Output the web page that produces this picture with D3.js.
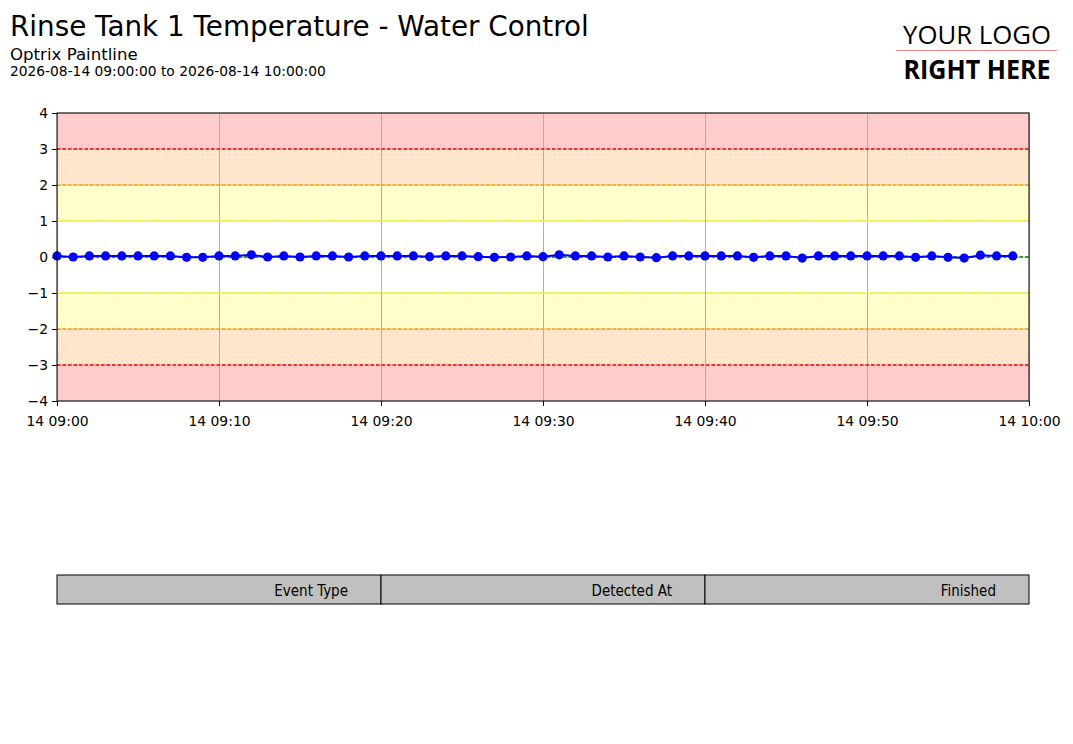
<!DOCTYPE html>
<html>
<head>
<meta charset="utf-8">
<script src="https://cdn.jsdelivr.net/npm/d3@7"></script>
<style>
  body { margin: 0; background: #fff; }
  svg { display: block; font-family: "DejaVu Sans", sans-serif; }
</style>
</head>
<body>
<svg id="chart" width="1073" height="744"></svg>
<script>
// readings, one per minute from 09:00
var startTime = "2026-08-14 09:00:00";
var endTime = "2026-08-14 10:00:00";
var values = [
  0.03, 0.00, 0.03, 0.03, 0.03, 0.03, 0.03, 0.03, -0.01, -0.01,
  0.03, 0.03, 0.06, 0.00, 0.03, 0.00, 0.03, 0.03, 0.00, 0.03,
  0.03, 0.03, 0.03, 0.01, 0.03, 0.03, 0.01, -0.01, 0.00, 0.03,
  0.01, 0.06, 0.03, 0.03, 0.00, 0.03, 0.00, -0.02, 0.03, 0.03,
  0.03, 0.03, 0.03, -0.01, 0.03, 0.03, -0.03, 0.03, 0.03, 0.03,
  0.03, 0.03, 0.03, -0.01, 0.03, -0.01, -0.03, 0.05, 0.03, 0.03
];
var yTicks = [-4, -3, -2, -1, 0, 1, 2, 3, 4];
var bands = [
  { lo: 3, hi: 4, fill: "#ffcccc" },
  { lo: 2, hi: 3, fill: "#ffe5cc" },
  { lo: 1, hi: 2, fill: "#ffffcc" },
  { lo: -2, hi: -1, fill: "#ffffcc" },
  { lo: -3, hi: -2, fill: "#ffe5cc" },
  { lo: -4, hi: -3, fill: "#ffcccc" }
];
var limits = [
  { v: 3, color: "red" }, { v: 2, color: "orange" }, { v: 1, color: "yellow" },
  { v: -1, color: "yellow" }, { v: -2, color: "orange" }, { v: -3, color: "red" }
];
var target = 0;
var tableCols = ["Event Type", "Detected At", "Finished"];

var parse = d3.timeParse("%Y-%m-%d %H:%M:%S");
var t0 = parse(startTime), t1 = parse(endTime);
var times = d3.timeMinute.range(t0, t1);
var data = values.map(function(v, i) { return { t: times[i], v: v }; });

var svg = d3.select("#chart");
var plotLeft = 57, plotRight = 1029, plotTop = 113, plotBottom = 401;

var x = d3.scaleTime().domain([t0, t1]).range([plotLeft, plotRight]);
var y = d3.scaleLinear().domain([-4, 4]).range([plotBottom, plotTop]);

// header
svg.append("text").attr("x", 10).attr("y", 36).attr("font-size", 27.8).text("Rinse Tank 1 Temperature - Water Control");
svg.append("text").attr("x", 10).attr("y", 60).attr("font-size", 16.6).text("Optrix Paintline");
svg.append("text").attr("x", 10).attr("y", 76).attr("font-size", 13.8).text(startTime + " to " + endTime);

// logo
var logo = svg.append("g").attr("font-family", "'Open Sans', sans-serif").attr("text-anchor", "middle");
logo.append("text").attr("x", 977).attr("y", 44).attr("font-size", 26)
  .attr("textLength", 148).attr("lengthAdjust", "spacingAndGlyphs").text("YOUR LOGO");
logo.append("line").attr("x1", 896).attr("x2", 1057).attr("y1", 50.5).attr("y2", 50.5)
  .attr("stroke", "#f08a8a").attr("stroke-width", 1);
logo.append("text").attr("x", 977).attr("y", 79).attr("font-size", 26).attr("font-weight", "bold")
  .attr("textLength", 147).attr("lengthAdjust", "spacingAndGlyphs").text("RIGHT HERE");

// bands
svg.selectAll("rect.band").data(bands).enter().append("rect").classed("band", true)
  .attr("x", plotLeft).attr("width", plotRight - plotLeft)
  .attr("y", function(d) { return y(d.hi); })
  .attr("height", function(d) { return y(d.lo) - y(d.hi); })
  .attr("fill", function(d) { return d.fill; });

// grid
var xTicks = x.ticks(d3.timeMinute.every(10));
svg.append("g").selectAll("line").data(xTicks).enter().append("line")
  .attr("x1", function(d) { return x(d) + 0.5; }).attr("x2", function(d) { return x(d) + 0.5; })
  .attr("y1", plotTop).attr("y2", plotBottom).attr("stroke", "#b0b0b0").attr("stroke-width", 1);
svg.append("g").selectAll("line").data(yTicks).enter().append("line")
  .attr("x1", plotLeft).attr("x2", plotRight)
  .attr("y1", function(d) { return y(d); }).attr("y2", function(d) { return y(d); })
  .attr("stroke", "#b0b0b0").attr("stroke-width", 0.8);

// limit lines
svg.append("g").selectAll("line").data(limits).enter().append("line")
  .attr("x1", plotLeft).attr("x2", plotRight)
  .attr("y1", function(d) { return y(d.v); }).attr("y2", function(d) { return y(d.v); })
  .attr("stroke", function(d) { return d.color; }).attr("stroke-width", 1.5)
  .attr("stroke-dasharray", "3.5,2");
svg.append("line").attr("x1", plotLeft).attr("x2", plotRight)
  .attr("y1", y(target)).attr("y2", y(target))
  .attr("stroke", "green").attr("stroke-width", 1.5).attr("stroke-dasharray", "3.5,2");

// series
svg.append("path").datum(data)
  .attr("d", d3.line().x(function(d) { return x(d.t); }).y(function(d) { return y(d.v); }))
  .attr("fill", "none").attr("stroke", "blue").attr("stroke-width", 2);
svg.append("g").selectAll("circle").data(data).enter().append("circle")
  .attr("cx", function(d) { return x(d.t); }).attr("cy", function(d) { return y(d.v); })
  .attr("r", 4.6).attr("fill", "blue");

// frame
svg.append("rect").attr("x", plotLeft).attr("y", plotTop)
  .attr("width", plotRight - plotLeft).attr("height", plotBottom - plotTop)
  .attr("fill", "none").attr("stroke", "black").attr("stroke-width", 1);

// axes
var fmt = d3.timeFormat("%d %H:%M");
var xAxis = svg.append("g").attr("transform", "translate(0," + plotBottom + ")")
  .call(d3.axisBottom(x).tickValues(xTicks).tickFormat(fmt).tickSize(5).tickPadding(5));
var yAxis = svg.append("g").attr("transform", "translate(" + plotLeft + ",0)")
  .call(d3.axisLeft(y).tickValues(yTicks)
    .tickFormat(function(d) { return d < 0 ? "\u2212" + Math.abs(d) : d; })
    .tickSize(5).tickPadding(4));
[xAxis, yAxis].forEach(function(a) {
  a.select(".domain").remove();
  a.selectAll("text").attr("font-size", 13.9).attr("font-family", "'DejaVu Sans', sans-serif").attr("fill", "#000");
  a.selectAll("line").attr("stroke", "#000");
});
xAxis.selectAll("text").attr("dy", "1.05em");
yAxis.selectAll("text").attr("dy", "0.34em");

// event table
var colW = (plotRight - plotLeft) / tableCols.length;
var table = svg.append("g");
table.selectAll("rect").data(tableCols).enter().append("rect")
  .attr("x", function(d, i) { return plotLeft + i * colW; }).attr("y", 575)
  .attr("width", colW).attr("height", 29)
  .attr("fill", "#c0c0c0").attr("stroke", "#000").attr("stroke-width", 1);
table.selectAll("text").data(tableCols).enter().append("text")
  .attr("x", function(d, i) { return plotLeft + (i + 1) * colW - 33; }).attr("y", 595.5)
  .attr("text-anchor", "end").attr("font-size", 15)
  .attr("font-family", "'DejaVu Sans Condensed', 'DejaVu Sans', sans-serif")
  .text(function(d) { return d; });
</script>
</body>
</html>
